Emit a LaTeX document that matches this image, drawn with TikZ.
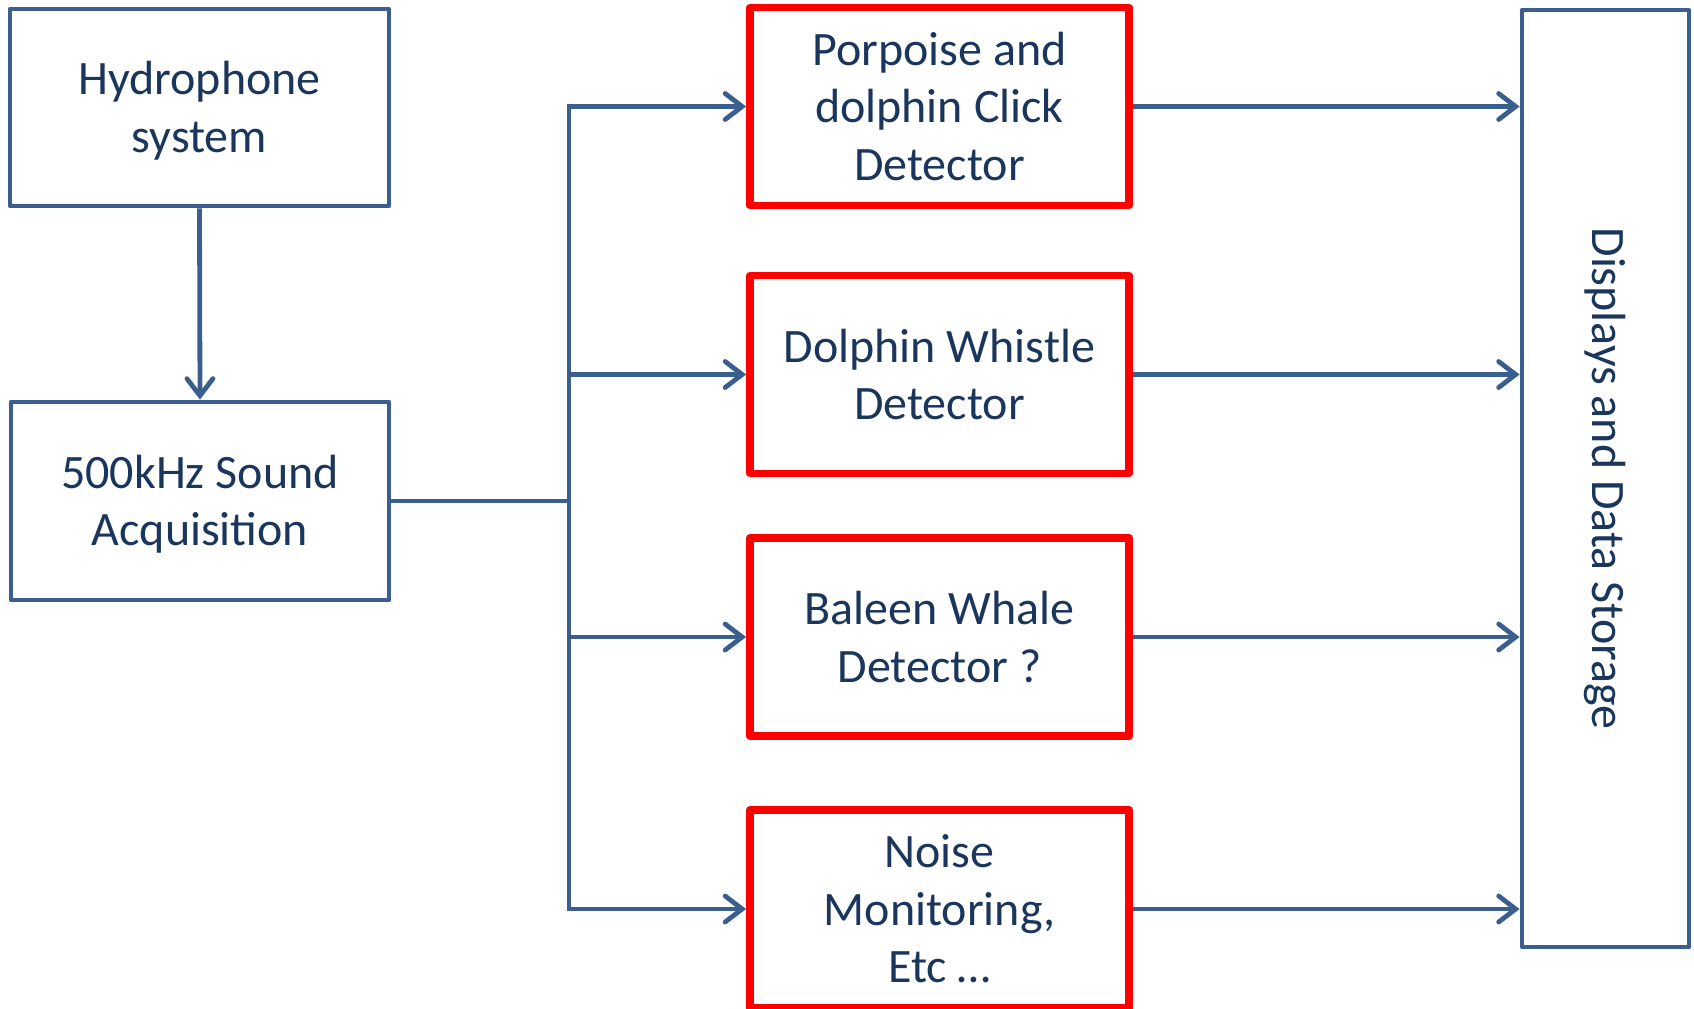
\documentclass[tikz,border=0pt]{standalone}
\usepackage{fontspec}
\setmainfont{Carlito}
\usetikzlibrary{arrows.meta}
\definecolor{edgeblue}{HTML}{3A5F8F}
\definecolor{inkblue}{HTML}{1B365D}
\definecolor{alertred}{HTML}{FF0000}
\begin{document}
\begin{tikzpicture}[x=0.5pt,y=-0.5pt,
  labeltext/.style={text=inkblue, align=center, font=\fontsize{24}{28.8}\selectfont},
  box/.style={labeltext, draw=edgeblue, line width=2.4pt, fill=white, inner sep=0pt, line join=round},
  detector/.style={box, draw=alertred, line width=3.9pt, minimum width=189.5pt, minimum height=99pt},
  link/.style={draw=edgeblue, line width=2.4pt},
  flow/.style={link, -{Straight Barb[length=8.5pt,width=13pt,line cap=round]}}
]
\useasboundingbox (0,0) rectangle (1694,1008);

% source chain
\node[box, minimum width=189.5pt, minimum height=98.5pt] (hydro) at (199.5,107.5) {};
\node[labeltext] (hydrolabel) at ([yshift=-1.6pt]hydro.center) {Hydrophone\\system};
\node[box, minimum width=189pt, minimum height=99pt] (sound) at (200,501) {};
\node[labeltext] (soundlabel) at ([yshift=-1.6pt]sound.center) {500kHz Sound\\Acquisition};

% detectors
\node[detector] (r1) at (939.5,106.5) {Porpoise and\\dolphin Click\\Detector};
\node[detector] (r2) at (939.5,374.5) {Dolphin Whistle\\Detector};
\node[detector] (r3) at (939.5,637) {Baleen Whale\\Detector ?};
\node[detector] (r4) at (939.5,909) {Noise\\Monitoring,\\Etc …};

% output sink
\node[box, minimum width=83.5pt, minimum height=468.5pt] (store) at (1605.5,478.5) {};
\node[labeltext, rotate=-90] (storelabel) at (store.center) {Displays and Data Storage};

% distribution bus
\coordinate (bus) at (569,501);
\draw[flow] (hydro.south) -- (sound.north);
\draw[link] (sound.east) -- (sound.east -| bus);
\draw[link, line cap=rect] (bus |- r1.west) -- (bus |- r4.west);
\foreach \r in {r1,r2,r3,r4}{
  \draw[flow] (bus |- \r.west) -- (\r.west);
  \draw[flow] (\r.east) -- (store.west |- \r.east);
}
\end{tikzpicture}
\end{document}
